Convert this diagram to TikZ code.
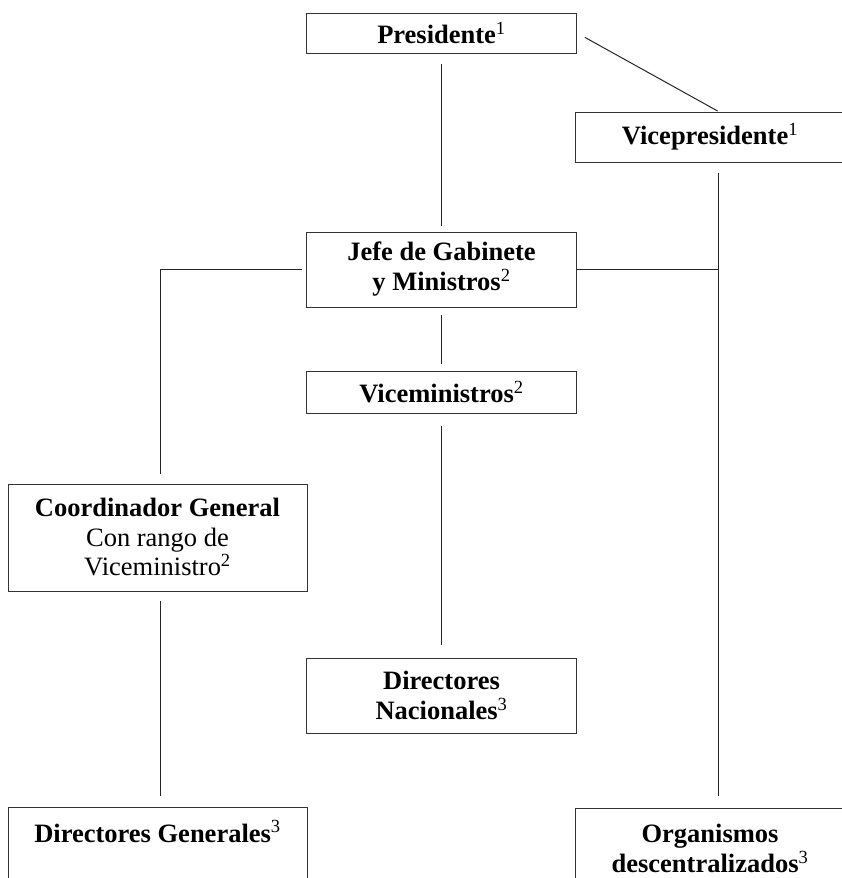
\documentclass[tikz,border=0pt]{standalone}
\usepackage{fontspec}
\setmainfont{Liberation Serif}
\usetikzlibrary{positioning}

\begin{document}
\begin{tikzpicture}[x=1pt,y=-1pt,line width=1pt,
                    font=\fontsize{26.5pt}{30pt}\selectfont]
  \tikzstyle{orgbox}=[draw=black!80, align=center, inner sep=0pt,
                      minimum width=270pt, font=\fontsize{26.5pt}{30pt}\selectfont\bfseries]
  \tikzstyle{link}=[draw=black!85]
  \newcommand{\nota}[1]{{\mdseries\textsuperscript{#1}}}

  \useasboundingbox (0,0) rectangle (842,878);
  \clip (0,0) rectangle (842,878);

  \coordinate (vx) at (718.5,0);
  \coordinate (cx) at (160.5,0);

  \node[orgbox, minimum height=40pt] (P)  at (441.5,33)    {Presidente\nota{1}};
  \node[orgbox, minimum height=50pt] (V)  at (710,137)     {Vicepresidente\nota{1}};
  \node[orgbox, minimum height=75pt] (J)  at (441.5,269.5) {Jefe de Gabinete\\y Ministros\nota{2}};
  \node[orgbox, minimum height=42pt] (VM) at (441.5,392)   {Viceministros\nota{2}};
  \node[orgbox, minimum height=75pt] (DN) at (441.5,695.5) {Directores\\Nacionales\nota{3}};
  \node[orgbox, minimum width=299pt, minimum height=107pt,
        font=\fontsize{26.5pt}{29.5pt}\selectfont] (CG) at (157.5,537.5)
        {\textbf{Coordinador General}\\Con rango de\\Viceministro\textsuperscript{2}};
  \node[orgbox, minimum width=299pt, anchor=base, inner ysep=15pt,
        text height=20pt, text depth=60pt] (DG) at (157.5,842)
        {Directores Generales\nota{3}};
  \node[orgbox, minimum height=80pt, anchor=north] (OD) at (710,808)
        {Organismos\\descentralizados\nota{3}};

  % lineas
  \path[link] (P) edge[shorten <=10pt, shorten >=6pt] (J)
              (P.east) edge[shorten <=9pt, shorten >=1pt] (V.north -| vx)
              (V.south -| vx) edge[shorten <=10pt, shorten >=12pt] (OD.north -| vx)
              (J.east) edge (J.east -| vx)
              (J) edge[shorten <=7pt, shorten >=7pt] (VM)
              (VM) edge[shorten <=12pt, shorten >=13pt] (DN)
              (CG.south -| cx) edge[shorten <=9pt, shorten >=11pt] (DG.north -| cx);
  \draw[link, shorten <=4pt, shorten >=10pt] (J.west) -| (CG.north -| cx);
\end{tikzpicture}
\end{document}
